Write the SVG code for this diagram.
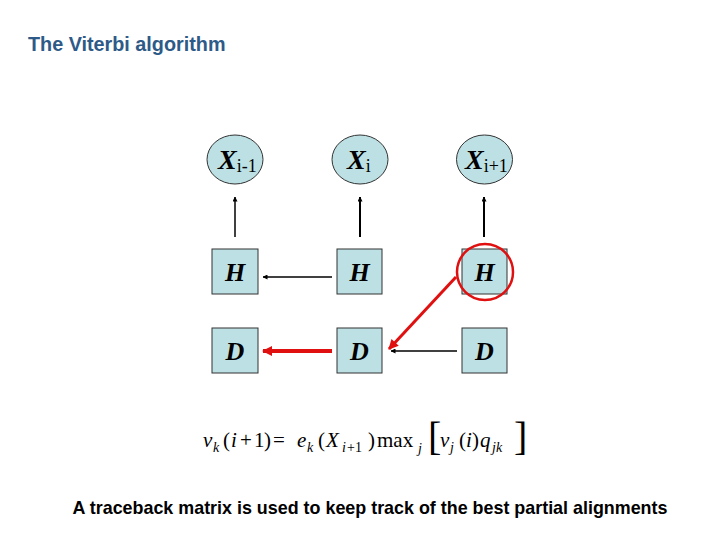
<svg xmlns="http://www.w3.org/2000/svg" width="720" height="540" viewBox="0 0 720 540">
<defs>
<marker id="ah" viewBox="0 0 10 10" refX="9" refY="5" markerWidth="5" markerHeight="5" orient="auto" markerUnits="userSpaceOnUse">
<path d="M0,0 L10,5 L0,10 z" fill="#000"/>
</marker>
<marker id="ahr" viewBox="0 0 10 10" refX="9" refY="5" markerWidth="12" markerHeight="10" orient="auto" markerUnits="userSpaceOnUse">
<path d="M0,0 L10,5 L0,10 z" fill="#e01010"/>
</marker>
</defs>
<style>
.node{fill:#bde0e4;stroke:#333;stroke-width:1}
.lab{font-family:"Liberation Serif",serif;font-style:italic;font-weight:bold;font-size:26px;fill:#000}
.xl{font-size:28px}
.sub{font-family:"Liberation Serif",serif;font-style:normal;font-weight:normal;font-size:18px}
.f{font-family:"Liberation Serif",serif;font-size:21px;fill:#000}
.fs{font-size:14px;font-style:italic}
.it{font-style:italic}
</style>
<rect width="720" height="540" fill="#fff"/>
<text x="28" y="51" font-family="Liberation Sans,Arial,sans-serif" font-weight="bold" font-size="19.8" fill="#2e5a88">The Viterbi algorithm</text>

<g id="connectors">
<line x1="235" y1="237" x2="235" y2="197" stroke="#000" stroke-width="1.5" marker-end="url(#ah)"/>
<line x1="360" y1="237" x2="360" y2="197" stroke="#000" stroke-width="2" marker-end="url(#ah)"/>
<line x1="484" y1="237" x2="484" y2="197" stroke="#000" stroke-width="2" marker-end="url(#ah)"/>
<line x1="332" y1="277" x2="263" y2="277" stroke="#000" stroke-width="1.5" marker-end="url(#ah)"/>
<line x1="457" y1="351" x2="391" y2="351" stroke="#000" stroke-width="1.5" marker-end="url(#ah)"/>
<line x1="332" y1="351" x2="263" y2="351" stroke="#e01010" stroke-width="4" marker-end="url(#ahr)"/>
<line x1="456" y1="277" x2="389" y2="349" stroke="#e01010" stroke-width="3" marker-end="url(#ahr)"/>
</g>

<g id="x1"><ellipse class="node" cx="235" cy="159.5" rx="28" ry="24.5"/><text x="218" y="169" class="lab xl">X<tspan class="sub" dy="3">i-1</tspan></text></g>
<g id="x2"><ellipse class="node" cx="360" cy="159.5" rx="28" ry="24.5"/><text x="347" y="169" class="lab xl">X<tspan class="sub" dy="3">i</tspan></text></g>
<g id="x3"><ellipse class="node" cx="484.5" cy="159.5" rx="28" ry="24.5"/><text x="465" y="169" class="lab xl">X<tspan class="sub" dy="3">i+1</tspan></text></g>

<g id="h1"><rect class="node" x="212" y="249" width="46" height="45"/><text x="235" y="281" text-anchor="middle" class="lab">H</text></g>
<g id="h2"><rect class="node" x="337" y="249" width="45" height="45"/><text x="359.5" y="281" text-anchor="middle" class="lab">H</text></g>
<g id="h3"><rect class="node" x="462" y="249" width="45" height="45"/><text x="484.5" y="281" text-anchor="middle" class="lab">H</text>
<circle cx="485" cy="272" r="28" fill="none" stroke="#e01010" stroke-width="2.5"/></g>
<g id="d1"><rect class="node" x="212" y="328" width="46" height="45"/><text x="235" y="360" text-anchor="middle" class="lab">D</text></g>
<g id="d2"><rect class="node" x="337" y="328" width="45" height="45"/><text x="359.5" y="360" text-anchor="middle" class="lab">D</text></g>
<g id="d3"><rect class="node" x="462" y="328" width="45" height="45"/><text x="484.5" y="360" text-anchor="middle" class="lab">D</text></g>

<g id="formula">
<text class="f" y="447"><tspan x="203" class="it">v</tspan><tspan x="213" y="452" class="fs">k</tspan><tspan x="223" y="447">(</tspan><tspan x="231" class="it">i</tspan><tspan x="240">+</tspan><tspan x="254">1</tspan><tspan x="264">)</tspan><tspan x="273">=</tspan><tspan x="297" class="it">e</tspan><tspan x="307" y="452" class="fs">k</tspan><tspan x="318" y="447">(</tspan><tspan x="326" class="it">X</tspan><tspan x="342" y="452" class="fs">i</tspan><tspan x="347" y="452" font-size="14">+1</tspan><tspan x="368" y="447">)</tspan><tspan x="377">max</tspan><tspan x="418" y="453" class="fs">j</tspan><tspan x="440" y="447" class="it">v</tspan><tspan x="450" y="452" class="fs">j</tspan><tspan x="459" y="447">(</tspan><tspan x="466" class="it">i</tspan><tspan x="472">)</tspan><tspan x="480" class="it">q</tspan><tspan x="492" y="452" class="fs">jk</tspan></text>
<text x="428" y="450" font-family="Liberation Serif,serif" font-size="40">[</text>
<text x="514" y="450" font-family="Liberation Serif,serif" font-size="40">]</text>
</g>

<text x="370" y="514" text-anchor="middle" font-family="Liberation Sans,Arial,sans-serif" font-weight="bold" font-size="17.9" fill="#000">A traceback matrix is used to keep track of the best partial alignments</text>
</svg>
